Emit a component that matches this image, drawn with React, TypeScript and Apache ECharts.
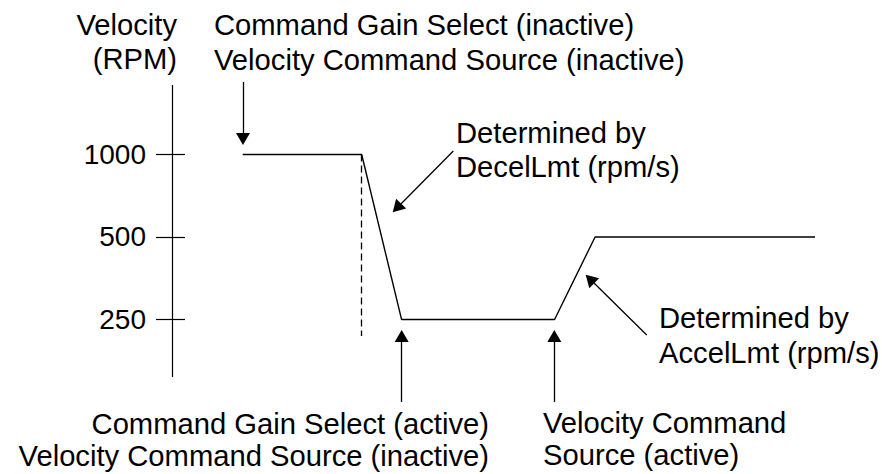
import React, { useEffect, useRef } from "react";
import * as echarts from "echarts";

// ---- Data ----
// time is in arbitrary units (0 = velocity axis, 100 = end of trace)
const timeUnits = [11.0, 29.5, 35.7, 59.5, 65.8, 100];
const velocityRpm = [1000, 1000, 250, 250, 500, 500];
const tickValues = [250, 500, 1000];

// visible extent of the velocity axis line
const axisLineSpan = [154.2, 1793];
// right-hand half of each tick mark (in time units)
const tickInnerReach = 2.02;

// dashed marker: moment the gain-select input becomes active
const gainSelectTime = 29.5;
const dashedEnd = 217.6;

// annotation arrows: [tailTime, tailRpm, headTime, headRpm]
const arrowTop = [11.04, 1839, 11.04, 1139];
const arrowDecel = [43.75, 1030, 34.98, 638];
const arrowGainActive = [35.72, 125, 35.72, 217.6];
const arrowSourceActive = [59.46, 125, 59.46, 217.6];
const arrowAccel = [73.83, 219.4, 65.0, 351];

const FONT = '"Liberation Sans", Arial, Helvetica, sans-serif';
const INK = "#000";

function arrow(a: number[]) {
  const ls = { color: INK, width: 1.3, type: "solid" as const };
  return [
    { coord: [a[0], a[1]], symbol: "none", lineStyle: ls },
    { coord: [a[2], a[3]], symbol: "triangle", symbolSize: [14, 12], itemStyle: { color: INK }, lineStyle: ls },
  ];
}

function seg(x0: number, y0: number, x1: number, y1: number, width: number, type: any = "solid") {
  const ls = { color: INK, width, type };
  return [
    { coord: [x0, y0], lineStyle: ls },
    { coord: [x1, y1], lineStyle: ls },
  ];
}

function text(t: string, x: number, y: number, align: string, lh: number) {
  return {
    type: "text",
    x,
    y,
    silent: true,
    style: {
      text: t,
      fill: INK,
      fontSize: 29.2,
      fontFamily: FONT,
      align,
      verticalAlign: "top",
      lineHeight: lh,
    },
  };
}

export default function App() {
  const ref = useRef<HTMLDivElement>(null);
  useEffect(() => {
    if (!ref.current) return;
    const chart = echarts.init(ref.current, null, { renderer: "svg" });
    chart.setOption({
      animation: false,
      grid: { left: 172, right: 67, top: 70, bottom: 59 },
      xAxis: { type: "value", min: 0, max: 100, show: false },
      yAxis: {
        type: "log",
        logBase: 2,
        min: 112,
        max: 2034,
        position: "left",
        splitLine: { show: false },
        axisLine: { show: false },
        axisTick: { show: true, length: 16, inside: false, customValues: tickValues, lineStyle: { color: INK, width: 1.2 } },
        axisLabel: {
          show: true,
          customValues: tickValues,
          margin: 26,
          fontSize: 28,
          color: INK,
          fontFamily: FONT,
          formatter: (v: number) => String(Math.round(v)),
        },
      },
      series: [
        {
          type: "line",
          data: timeUnits.map((t, i) => [t, velocityRpm[i]]),
          symbol: "none",
          clip: false,
          lineStyle: { color: INK, width: 1.4 },
          markLine: {
            silent: true,
            animation: false,
            symbol: ["none", "none"],
            label: { show: false },
            emphasis: { disabled: true },
            data: [
              seg(0, axisLineSpan[0], 0, axisLineSpan[1], 1.2),
              ...tickValues.map((v) => seg(0, v, tickInnerReach, v, 1.2)),
              seg(gainSelectTime, velocityRpm[1], gainSelectTime, dashedEnd, 1.3, [7, 4]),
              arrow(arrowTop),
              arrow(arrowDecel),
              arrow(arrowGainActive),
              arrow(arrowSourceActive),
              arrow(arrowAccel),
            ],
          },
        },
      ],
      graphic: [
        text("Velocity\n(RPM)", 177, 8, "right", 34),
        text("Command Gain Select (inactive)\nVelocity Command Source (inactive)", 214, 7.5, "left", 35),
        text("Determined by\nDecelLmt (rpm/s)", 456, 116, "left", 34),
        text("Determined by\nAccelLmt (rpm/s)", 659, 300.5, "left", 35),
        text("Command Gain Select (active)\nVelocity Command Source (inactive)", 489, 408, "right", 32),
        text("Velocity Command\nSource (active)", 543, 407, "left", 32),
      ],
    });
    return () => chart.dispose();
  }, []);
  return <div ref={ref} style={{ position: "fixed", left: 0, top: 0, width: 882, height: 474, background: "#fff" }} />;
}
